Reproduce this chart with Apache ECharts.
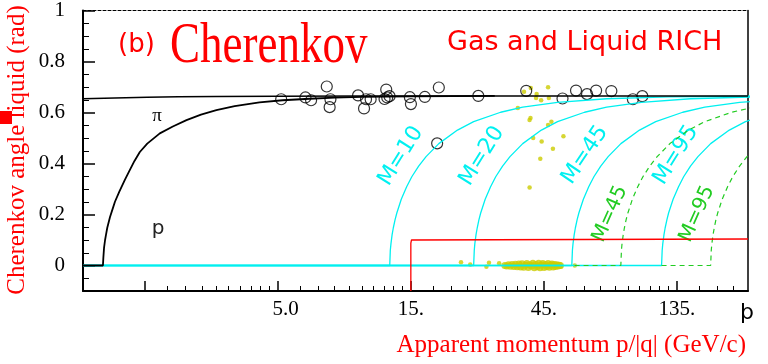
<!DOCTYPE html>
<html>
<head>
    <meta charset="utf-8">
    <title>Cherenkov angle</title>
    <script src="https://cdn.jsdelivr.net/npm/echarts@6/dist/echarts.min.js"></script>
    <style>
        html, body { margin: 0; padding: 0; background: #fff; }
    </style>
</head>
<body>
<div id="main" style="width: 768px;height:364px;"></div>
<script type="text/javascript">
    // axis ticks (apparent momentum, log scale in steps of 3)
    var xMajorTicks = [1.6667, 5, 15, 45, 135];
    var xMinorTicks = [2, 2.333, 2.667, 3, 3.333, 3.667, 4, 4.333, 4.667,
        6, 7, 8, 9, 10, 11, 12, 13, 14,
        18, 21, 24, 27, 30, 33, 36, 39, 42,
        54, 63, 72, 81, 90, 99, 108, 117, 126,
        162, 189, 216];
    var xLabelValues = [5, 15, 45, 135];
    var xLabelTexts = ['   5.0', '15.', '45.', '135.'];
    var yMajorTicks = [0, 0.2, 0.4, 0.6, 0.8, 1];
    var yMinorTicks = [-0.05, 0.05, 0.1, 0.15, 0.25, 0.3, 0.35, 0.45, 0.5, 0.55,
        0.65, 0.7, 0.75, 0.85, 0.9, 0.95];

    // pion and proton bands
    var pion = [[1, 0.654], [1.3, 0.657], [1.7, 0.66], [2.2, 0.662], [3, 0.663],
        [5, 0.664], [10, 0.665], [243, 0.665]];
    var proton = [[1, 0], [1.179, 0], [1.183, 0.03], [1.19, 0.07], [1.2, 0.1], [1.209, 0.12],
        [1.222, 0.148], [1.25, 0.19], [1.28, 0.225], [1.302, 0.25], [1.35, 0.29],
        [1.413, 0.336], [1.473, 0.375], [1.53, 0.41], [1.599, 0.445], [1.7, 0.478],
        [1.886, 0.518], [2.1, 0.545], [2.351, 0.57], [2.65, 0.592], [3.009, 0.609],
        [3.5, 0.625], [4.296, 0.64], [5.2, 0.648], [6.5, 0.654], [8, 0.658],
        [10, 0.661], [15, 0.663], [30, 0.665]];

    // heavy particle curves, charge 1 (solid)
    var m10 = [[1, 0], [12.6, 0], [12.66, 0.06], [12.73, 0.086], [12.85, 0.121], [12.98, 0.148],
        [13.17, 0.18], [13.36, 0.206], [13.86, 0.26], [14.49, 0.309], [15.12, 0.348], [16.0, 0.39],
        [17.01, 0.427], [18.9, 0.478], [22.05, 0.531], [25.2, 0.564],
        [31.5, 0.601], [37.8, 0.621], [50.4, 0.64], [75.6, 0.654], [126, 0.661], [252, 0.664]];
    var m20 = [[1, 0], [25.2, 0], [25.33, 0.06], [25.45, 0.086], [25.7, 0.121], [25.96, 0.148],
        [26.33, 0.18], [26.71, 0.206], [27.72, 0.26], [28.98, 0.309], [30.24, 0.348], [32.0, 0.39],
        [34.02, 0.427], [37.8, 0.478], [44.1, 0.531], [50.4, 0.564],
        [63, 0.601], [75.6, 0.621], [100.8, 0.64], [151.2, 0.654], [252, 0.661]];
    var m45 = [[1, 0], [56.7, 0], [56.98, 0.06], [57.27, 0.086], [57.83, 0.121], [58.4, 0.148],
        [59.25, 0.18], [60.1, 0.206], [62.37, 0.26], [65.2, 0.309], [68.04, 0.348], [72.0, 0.39],
        [76.55, 0.427], [85.05, 0.478], [99.2, 0.531], [113.4, 0.564],
        [141.75, 0.601], [170.1, 0.621], [226.8, 0.64], [340, 0.654]];
    var m95 = [[1, 0], [119, 0], [119.6, 0.06], [120.2, 0.086], [121.4, 0.121], [122.6, 0.148],
        [124.4, 0.18], [126.1, 0.206], [130.9, 0.26], [136.9, 0.309], [142.8, 0.348], [151.1, 0.39],
        [160.7, 0.427], [178.5, 0.478], [208.3, 0.531], [238, 0.564], [297.5, 0.601]];
    // charge 2/3 (dashed)
    var m45q = [[58, 0], [85, 0], [85.43, 0.06], [85.85, 0.086], [86.7, 0.121], [87.55, 0.148],
        [88.8, 0.18], [90.1, 0.206], [93.5, 0.26], [97.75, 0.309], [102, 0.348], [107.95, 0.39],
        [114.75, 0.427], [127.5, 0.478], [148.75, 0.531], [170, 0.564],
        [212.5, 0.601], [255, 0.621]];
    var m95q = [[119, 0], [178.5, 0], [179.4, 0.06], [180.3, 0.086], [182.1, 0.121], [183.9, 0.148],
        [186.5, 0.18], [189.2, 0.206], [196.4, 0.26], [205.3, 0.309], [214.2, 0.348],
        [226.7, 0.39], [241, 0.427], [267.8, 0.478]];

    // trigger threshold (red)
    var trigger = [[15, -0.1], [15, 0.088], [15.08, 0.1], [15.3, 0.104], [243, 0.104]];

    // measured rings
    var rings = [[5.14, 0.652], [6.28, 0.659], [6.58, 0.648], [7.49, 0.702], [7.72, 0.652],
        [7.67, 0.621], [9.7, 0.667], [10.19, 0.616], [10.36, 0.652], [10.76, 0.652],
        [12.24, 0.69], [12.07, 0.653], [12.34, 0.659], [12.58, 0.664], [14.88, 0.66],
        [15.01, 0.633], [16.84, 0.661], [18.9, 0.698], [26.19, 0.665], [18.64, 0.479],
        [38.9, 0.685], [52.5, 0.655], [58.7, 0.686], [64.3, 0.672], [69.3, 0.686],
        [78.6, 0.684], [93.9, 0.652], [101.5, 0.664]];

    // simulated heavy particles (yellow)
    var simDots = [[40.4, 0.696], [46.6, 0.699], [38.2, 0.681], [42.4, 0.673], [42.2, 0.657],
        [44.0, 0.648], [46.9, 0.657], [36.3, 0.618], [40.3, 0.578], [40.0, 0.571],
        [47.9, 0.564], [46.6, 0.551], [41.2, 0.5], [44.2, 0.486], [52.9, 0.507],
        [48.5, 0.458], [43.7, 0.419], [40.0, 0.306],
        [22.7, 0.013], [24.5, 0.004], [28.0, -0.005], [28.6, 0.011], [31.1, 0.009],
        [58.1, 0.0], [51.9, -0.004]];
    var simBlob = [[32.6, 0.0], [33.1, -0.002], [33.6, 0.003], [34.1, -0.003], [34.6, 0.004],
        [35.1, -0.004], [35.6, 0.005], [36.1, -0.005], [36.6, 0.006], [37.1, -0.006],
        [37.6, 0.007], [38.1, -0.007], [38.6, 0.001], [39.1, 0.008], [39.6, -0.008],
        [40.1, 0.003], [40.6, -0.002], [41.1, 0.009], [41.6, -0.009], [42.1, 0.004],
        [42.6, -0.004], [43.1, 0.009], [43.6, -0.009], [44.1, 0.002], [44.6, 0.008],
        [45.1, -0.008], [45.6, 0.004], [46.1, -0.004], [46.6, 0.008], [47.1, -0.007],
        [47.6, 0.002], [48.1, 0.006], [48.6, -0.006], [49.1, 0.004], [49.6, -0.004],
        [50.1, 0.003], [50.6, -0.002], [51.1, 0.001], [51.6, 0.0]];

    var CYAN = '#00f0f0';
    var GREEN = '#22cc22';
    var RED = '#ff0000';
    var SERIF = '"Liberation Serif", "Times New Roman", serif';
    var SANS = '"DejaVu Sans", sans-serif';
    var tickFont = {fontFamily: 'Liberation Serif', fontSize: 21, color: '#000'};

    function lineSeries(data, color, width, dashed) {
        return {
            type: 'line', data: data, showSymbol: false, silent: true,
            lineStyle: {color: color, width: width, type: dashed ? [5, 4] : 'solid'}
        };
    }

    function logX(extra) {
        var a = {
            type: 'log', logBase: 3, min: 1, max: 243, gridIndex: 0,
            splitLine: {show: false}, minorTick: {show: false}
        };
        for (var k in extra) a[k] = extra[k];
        return a;
    }

    function valY(extra) {
        var a = {
            type: 'value', min: -0.1, max: 1, gridIndex: 0,
            splitLine: {show: false}
        };
        for (var k in extra) a[k] = extra[k];
        return a;
    }

    function label(txt, x, y, rot, size, color, family) {
        return {
            type: 'text', x: x, y: y, rotation: rot * Math.PI / 180,
            style: {text: txt, font: size + 'px ' + family, fill: color,
                textAlign: 'center', textVerticalAlign: 'middle', align: 'center', verticalAlign: 'middle'}
        };
    }

    var myChart = echarts.init(document.getElementById('main'));

    var option = {
        animation: false,
        backgroundColor: '#fff',
        textStyle: {fontFamily: 'Liberation Serif'},
        grid: {left: 83, right: 20, top: 10, bottom: 73},
        xAxis: [
            logX({
                position: 'bottom',
                axisLine: {onZero: false, lineStyle: {color: '#000', width: 2}},
                axisTick: {inside: true, length: 10, customValues: xMajorTicks,
                    lineStyle: {color: '#000', width: 1.5}},
                axisLabel: {
                    customValues: xLabelValues, margin: 8,
                    color: '#000', fontFamily: 'Liberation Serif', fontSize: 21,
                    rich: {t: tickFont},
                    formatter: function (v) {
                        for (var i = 0; i < xLabelValues.length; i++) {
                            if (Math.abs(v - xLabelValues[i]) / xLabelValues[i] < 1e-3) {
                                return '{t|' + xLabelTexts[i] + '}';
                            }
                        }
                        return '';
                    }
                }
            }),
            logX({
                position: 'bottom',
                axisLine: {show: false, onZero: false},
                axisTick: {inside: true, length: 5, customValues: xMinorTicks,
                    lineStyle: {color: '#000', width: 1}},
                axisLabel: {show: false}
            }),
            logX({
                position: 'top',
                axisLine: {onZero: false, lineStyle: {color: '#000', width: 1, type: [3, 2]}},
                axisTick: {show: false},
                axisLabel: {show: false}
            })
        ],
        yAxis: [
            valY({
                position: 'left',
                axisLine: {show: true, onZero: false, lineStyle: {color: '#000', width: 2}},
                axisTick: {show: true, inside: true, length: 12, customValues: yMajorTicks,
                    lineStyle: {color: '#000', width: 1.5}},
                axisLabel: {customValues: yMajorTicks, margin: 18, color: '#000',
                    fontFamily: 'Liberation Serif', fontSize: 21,
                    rich: {t: tickFont},
                    formatter: function (v) { return '{t|' + (+v.toFixed(1)) + '}'; }}
            }),
            valY({
                position: 'left',
                axisLine: {show: false, onZero: false},
                axisTick: {show: true, inside: true, length: 6, customValues: yMinorTicks,
                    lineStyle: {color: '#000', width: 1}},
                axisLabel: {show: false}
            }),
            valY({
                position: 'right',
                axisLine: {show: true, onZero: false, lineStyle: {color: '#000', width: 1.5}},
                axisTick: {show: false},
                axisLabel: {show: false}
            })
        ],
        series: [
            lineSeries(m10, CYAN, 1.3),
            lineSeries(m20, CYAN, 1.3),
            lineSeries(m45, CYAN, 1.3),
            lineSeries(m95, CYAN, 1.3),
            lineSeries(m45q, GREEN, 1.2, true),
            lineSeries(m95q, GREEN, 1.2, true),
            lineSeries(trigger, RED, 1.3),
            lineSeries(pion, '#000', 1.6),
            lineSeries(proton, '#000', 1.8),
            {
                type: 'scatter', data: simBlob, symbolSize: 7, silent: true,
                itemStyle: {color: '#cccc00'}
            },
            {
                type: 'scatter', data: simDots, symbolSize: 4.5, silent: true,
                itemStyle: {color: '#cccc00'}
            },
            {
                type: 'scatter', data: rings, symbol: 'circle', symbolSize: 11, silent: true,
                itemStyle: {color: 'rgba(0,0,0,0)', borderColor: '#000', borderWidth: 1.2}
            }
        ],
        graphic: [
            {type: 'text', x: 118, y: 45, style: {text: '(b)', font: '26px ' + SANS,
                fill: RED, textAlign: 'left', textVerticalAlign: 'middle', align: 'left', verticalAlign: 'middle'}},
            {type: 'text', x: 170, y: 47, scaleY: 1.27, style: {text: 'Cherenkov', font: '45px ' + SERIF,
                fill: RED, textAlign: 'left', textVerticalAlign: 'middle', align: 'left', verticalAlign: 'middle'}},
            {type: 'text', x: 447, y: 43, style: {text: 'Gas and Liquid RICH', font: '27px ' + SANS,
                fill: RED, textAlign: 'left', textVerticalAlign: 'middle', align: 'left', verticalAlign: 'middle'}},
            {type: 'text', x: 746, y: 345, style: {text: 'Apparent momentum p/|q| (GeV/c)', font: '25px ' + SERIF,
                fill: RED, textAlign: 'right', textVerticalAlign: 'middle', align: 'right', verticalAlign: 'middle'}},
            label('Cherenkov angle liquid (rad)', 17, 150, 90, 25, RED, SERIF),
            {type: 'rect', shape: {x: 0, y: 111, width: 12, height: 13}, style: {fill: RED}},
            label('π', 157, 116, 0, 19, '#000', SERIF),
            label('p', 158, 229, 0, 20, '#222', SANS),
            label('þ', 747, 313, 0, 22, '#000', SANS),
            label('M=10', 401, 156, 58, 22, CYAN, SANS),
            label('M=20', 482, 156, 58, 22, CYAN, SANS),
            label('M=45', 585, 155, 56, 22, CYAN, SANS),
            label('M=95', 676, 155, 58, 22, CYAN, SANS),
            label('M=45', 610, 214, 66, 20, GREEN, SANS),
            label('M=95', 697, 214, 66, 20, GREEN, SANS)
        ]
    };
    myChart.setOption(option);
</script>
</body>
</html>
